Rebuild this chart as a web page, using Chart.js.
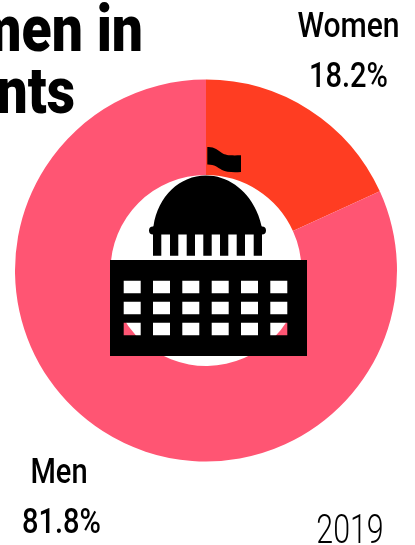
<!DOCTYPE html>
<html>
<head>
<meta charset="utf-8">
<title>Women in parliaments</title>
<script src="https://cdn.jsdelivr.net/npm/chart.js@4/dist/chart.umd.min.js"></script>
<style>
  html, body { margin: 0; padding: 0; background: #fff; overflow: hidden; }
  #wrap { position: relative; width: 415px; height: 545px; overflow: hidden; }
  #chart { position: absolute; left: 0; top: 0; }
  #capitol { position: absolute; left: 0; top: 0; }
</style>
</head>
<body>
<div id="wrap">
  <canvas id="chart" width="415" height="545"></canvas>
  <svg id="capitol" width="415" height="545" viewBox="0 0 415 545">
    <!-- flag -->
    <path d="M207.3 147 C214 146.5 218 150 222 153 C226 155.5 230 155.5 241 155.3 L241 172 C232 172.5 226 172 222 170 C218 167.5 214 164.3 207.3 164.5 Z" fill="#000"/>
    <!-- dome and ledge -->
    <path d="M153.5 226 C158 196 180 175.5 206 175.5 C232 175.5 255 196 261.5 226 L262 226.5 A4 4 0 0 1 262 234.5 L153 234.5 A4 4 0 0 1 153 226.5 Z" fill="#000"/>
    <!-- columns -->
    <path d="M153 234h8.3v21.7h-8.3z M170 234h8.3v21.7h-8.3z M186.7 234h8.3v21.7h-8.3z M203.3 234h8.4v21.7h-8.4z M220 234h8.3v21.7h-8.3z M236.7 234h8.3v21.7h-8.3z M253.7 234h8.3v21.7h-8.3z" fill="#000"/>
    <!-- building, windows are cut out so the ring shows through -->
    <path id="building" fill="#000" fill-rule="evenodd"></path>
  </svg>
</div>
<script>
const categories = ["Women", "Men"];
const shares = [18.2, 81.8];
const sliceColors = ["#ff3d22", "#ff5573"];
const yearLabel = "2019";
const titleLines = ["men in", "nts"];

// window grid of the building
const windowColumns = [123.7, 153, 182.3, 211.7, 241, 270.3];
const windowRows = [280.7, 301.7, 322.7];

function buildingPath() {
  let d = "M110 260H307V356H110Z";
  windowRows.forEach((y) => {
    windowColumns.forEach((x) => {
      d += ` M${x} ${y}h17v12.6h-17z`;
    });
  });
  return d;
}

document.getElementById("building").setAttribute("d", buildingPath());

function drawText(ctx, text, x, y, font, scaleX, align) {
  ctx.save();
  ctx.translate(x, y);
  ctx.scale(scaleX, 1);
  ctx.font = font;
  ctx.fillStyle = "#000";
  ctx.textAlign = align;
  ctx.textBaseline = "alphabetic";
  ctx.fillText(text, 0, 0);
  ctx.restore();
}

const textPlugin = {
  id: "textPlugin",
  afterDraw(chart) {
    const ctx = chart.ctx;
    const labelFont = '500 35px Roboto';
    const valueFont = '500 35px Roboto';
    const titleFont = '900 65px Roboto';

    drawText(ctx, titleLines[0], 143, 51, titleFont, 0.85, "right");
    drawText(ctx, titleLines[1], 75, 113, titleFont, 0.85, "right");

    drawText(ctx, categories[0], 348.5, 37, labelFont, 0.86, "center");
    drawText(ctx, shares[0] + "%", 348.5, 87, valueFont, 0.83, "center");
    drawText(ctx, categories[1], 59, 483, labelFont, 0.83, "center");
    drawText(ctx, shares[1] + "%", 61.5, 533, valueFont, 0.83, "center");

    drawText(ctx, yearLabel, 350, 543, '300 41px Roboto', 0.74, "center");
  },
};

new Chart(document.getElementById("chart"), {
  type: "doughnut",
  data: {
    labels: categories,
    datasets: [
      {
        data: shares,
        backgroundColor: sliceColors,
        borderWidth: 0,
      },
    ],
  },
  options: {
    responsive: false,
    animation: false,
    cutout: "50%",
    layout: {
      padding: { left: 15, right: 18, top: 79.5, bottom: 83.5 },
    },
    plugins: {
      legend: { display: false },
      tooltip: { enabled: false },
    },
  },
  plugins: [textPlugin],
});
</script>
</body>
</html>
